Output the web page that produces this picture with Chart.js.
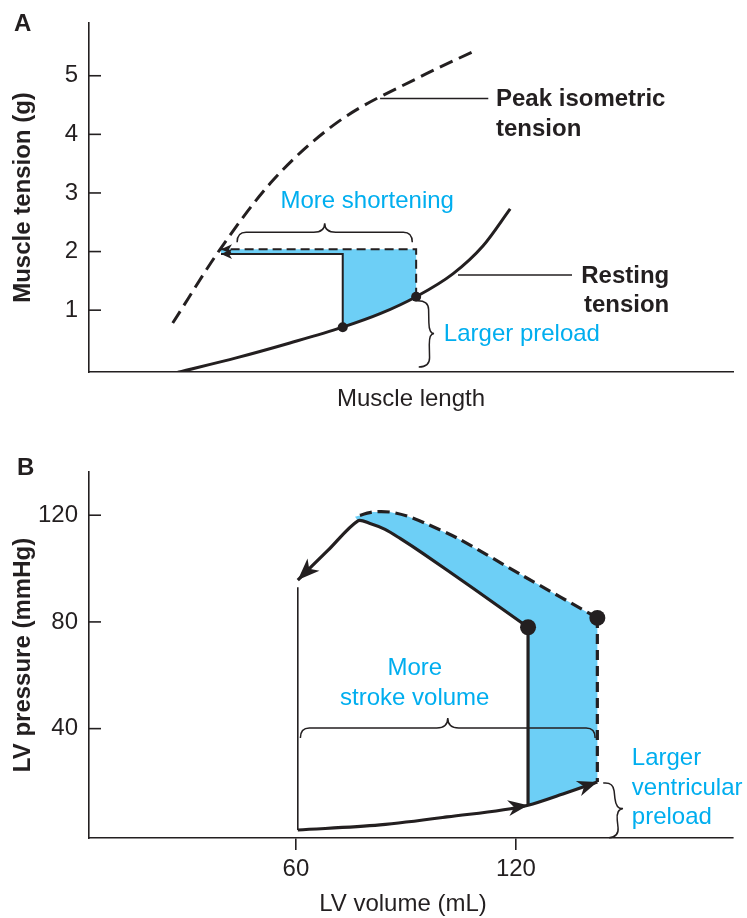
<!DOCTYPE html>
<html>
<head>
<meta charset="utf-8">
<title>Preload and shortening</title>
<script src="https://cdn.jsdelivr.net/npm/chart.js@4.4.1/dist/chart.umd.min.js"></script>
<style>
  html, body { margin: 0; padding: 0; background: #ffffff; }
  #wrap { position: relative; width: 747px; height: 918px; overflow: hidden; }
  #panelA { position: absolute; left: 0; top: 0; }
  #panelB { position: absolute; left: 0; top: 430px; }
</style>
</head>
<body>
<div id="wrap">
  <canvas id="panelA" width="747" height="430"></canvas>
  <canvas id="panelB" width="747" height="488"></canvas>
</div>
<script>
// ---------- Panel A: length-tension relation of isolated muscle ----------
const restingLength  = [1.38, 2.30, 3.12, 3.94, 4.52, 5.08, 5.65, 6.12, 6.54];
const restingTension = [-0.06, 0.19, 0.44, 0.71, 0.94, 1.23, 1.62, 2.10, 2.73];
const peakLength     = [1.30, 2.03, 2.86, 3.85, 5.14, 5.96];
const peakTension    = [0.78, 2.03, 3.22, 4.20, 4.98, 5.41];
const preloadLength  = [3.94, 5.08];   // starting length: smaller / larger preload
const preloadTension = [0.71, 1.23];
const liftTension    = [1.96, 2.04];   // tension held while the muscle shortens
const shortenedLength = 2.05;          // length reached on the peak isometric curve
const tensionTicks   = [1, 2, 3, 4, 5];

// ---------- Panel B: LV pressure-volume loops ----------
const fillVolume   = [60.5, 82.9, 101.2, 123.3, 132.8, 142.2];
const fillPressure = [2.0, 3.9, 6.9, 11.3, 15.5, 20.0];
const ejectVolume   = [123.3, 108.3, 94.6, 88.4, 84.3, 80.2, 76.9, 68.7, 60.5];
const ejectPressure = [78.0, 92.6, 105.7, 111.3, 114.7, 116.9, 117.9, 106.8, 95.7];
const ejectVolumeLarge   = [142.2, 121.9, 103.9, 95.7, 90.3, 85.6, 81.0, 76.1];
const ejectPressureLarge = [81.5, 97.3, 111.5, 116.7, 119.7, 121.2, 121.2, 119.4];
const openVolume   = [123.3, 142.2];   // aortic valve opening
const openPressure = [78.0, 81.5];
const relaxVolume   = 60.5;
const relaxPressure = [93.0, 2.0];
const pressureTicks = [40, 80, 120];
const volumeTicks   = [60, 120];

// ---------- styling ----------
const FONT  = "'Liberation Sans', Arial, Helvetica, sans-serif";
const INK   = '#231f20';
const CYAN  = '#00aeef';
const SHADE = '#6dcff6';

const pts = (xs, ys) => xs.map((x, i) => ({ x, y: ys[i] }));

function path(data, extra) {
  return Object.assign({
    data, showLine: true, pointRadius: 0, pointHoverRadius: 0,
    borderColor: INK, borderWidth: 3, fill: false, order: 1, tension: 0
  }, extra);
}

// ---------- derived shapes for panel A ----------
const restingPts = pts(restingLength, restingTension);
const peakPts    = pts(peakLength, peakTension);
const smallLoopA = [
  { x: preloadLength[0], y: preloadTension[0] },
  { x: preloadLength[0], y: liftTension[0] },
  { x: shortenedLength,  y: liftTension[0] }
];
const largeLoopA = [
  { x: preloadLength[1], y: preloadTension[1] },
  { x: preloadLength[1], y: liftTension[1] },
  { x: shortenedLength,  y: liftTension[1] }
];
const restingBetween = restingPts
  .filter(p => p.x >= preloadLength[0] && p.x <= preloadLength[1])
  .reverse();
const shadeA = [
  ...largeLoopA.slice().reverse(),
  ...restingBetween.slice(1),
  ...smallLoopA.slice(1)
];

// ---------- derived shapes for panel B ----------
const fillPts    = pts(fillVolume, fillPressure);
const ejectPts   = pts(ejectVolume, ejectPressure);
const ejectLarge = pts(ejectVolumeLarge, ejectPressureLarge);
const junction   = ejectVolumeLarge[ejectVolumeLarge.length - 1];
const contractSmall = [fillPts[3], { x: openVolume[0], y: openPressure[0] }];
const contractLarge = [{ x: openVolume[1], y: openPressure[1] }, fillPts[5]];
const relaxLine = [{ x: relaxVolume, y: relaxPressure[0] }, { x: relaxVolume, y: relaxPressure[1] }];
const shadeB = [
  ...ejectLarge.slice().reverse(),
  fillPts[5], fillPts[4], fillPts[3],
  ...ejectPts.filter(p => p.x >= junction)
];

// ---------- drawing helpers ----------
function arrowHead(ctx, tip, from, len, half, notch) {
  const dx = tip.x - from.x, dy = tip.y - from.y;
  const d = Math.hypot(dx, dy) || 1;
  const ux = dx / d, uy = dy / d, nx = -uy, ny = ux;
  ctx.beginPath();
  ctx.moveTo(tip.x, tip.y);
  ctx.lineTo(tip.x - ux * len + nx * half, tip.y - uy * len + ny * half);
  ctx.lineTo(tip.x - ux * (len - notch), tip.y - uy * (len - notch));
  ctx.lineTo(tip.x - ux * len - nx * half, tip.y - uy * len - ny * half);
  ctx.closePath();
  ctx.fill();
}

function brace(ctx, p1, p2, depth, shoulder) {
  const dx = p2.x - p1.x, dy = p2.y - p1.y;
  const L = Math.hypot(dx, dy);
  const ux = dx / L, uy = dy / L, nx = uy, ny = -ux;
  const P = (s, t) => [p1.x + ux * s + nx * t, p1.y + uy * s + ny * t];
  const r = 9, r2 = 11, m = L / 2;
  ctx.beginPath();
  ctx.moveTo(...P(0, 0));
  ctx.quadraticCurveTo(...P(0, shoulder), ...P(r, shoulder));
  ctx.lineTo(...P(m - r2, shoulder));
  ctx.quadraticCurveTo(...P(m, shoulder), ...P(m, depth));
  ctx.quadraticCurveTo(...P(m, shoulder), ...P(m + r2, shoulder));
  ctx.lineTo(...P(L - r, shoulder));
  ctx.quadraticCurveTo(...P(L, shoulder), ...P(L, 0));
  ctx.stroke();
}

function decorations(spec) {
  return {
    id: 'decorations',
    afterDatasetsDraw(chart) {
      const ctx = chart.ctx;
      ctx.save();
      ctx.fillStyle = INK;
      (spec.arrows || []).forEach(a => {
        const els = chart.getDatasetMeta(a.dataset).data;
        arrowHead(ctx, els[a.at], els[a.from], a.len, a.half, a.notch);
      });
      ctx.restore();
    },
    afterDraw(chart) {
      const ctx = chart.ctx;
      const xs = chart.scales.x, ys = chart.scales.y;
      const area = chart.chartArea;
      const px = v => ({ x: xs.getPixelForValue(v[0]), y: ys.getPixelForValue(v[1]) });
      ctx.save();
      // inward tick marks on the value axis
      ctx.strokeStyle = INK;
      ctx.lineWidth = 1.6;
      ys.ticks.forEach(t => {
        const y = ys.getPixelForValue(t.value);
        ctx.beginPath();
        ctx.moveTo(area.left, y);
        ctx.lineTo(area.left + 12, y);
        ctx.stroke();
      });
      // leader lines and braces
      ctx.lineWidth = 1.5;
      (spec.leaders || []).forEach(l => {
        const a = px(l.from), b = px(l.to);
        ctx.beginPath();
        ctx.moveTo(a.x, a.y);
        ctx.lineTo(b.x, b.y);
        ctx.stroke();
      });
      (spec.braces || []).forEach(b => brace(ctx, px(b.from), px(b.to), b.depth, b.shoulder));
      // text
      ctx.textBaseline = 'middle';
      (spec.texts || []).forEach(t => {
        const p = t.px ? { x: t.px[0], y: t.px[1] } : px(t.at);
        ctx.font = (t.bold ? 'bold ' : '') + '24px ' + FONT;
        ctx.fillStyle = t.color || INK;
        ctx.textAlign = t.align || 'left';
        ctx.fillText(t.text, p.x, p.y);
      });
      ctx.restore();
    }
  };
}

function baseOptions(pad) {
  return {
    responsive: false, animation: false, events: [], devicePixelRatio: 1,
    layout: { padding: pad },
    plugins: { legend: { display: false }, tooltip: { enabled: false } }
  };
}

const tickFont  = { family: FONT, size: 24, lineHeight: 1 };
const titleFont = { family: FONT, size: 24, weight: 'bold', lineHeight: 1.2 };
const axisBorder = { display: true, color: INK, width: 1.6 };

// ---------- Panel A ----------
const optsA = baseOptions({ left: 0, right: 14, top: 23, bottom: 0 });
optsA.scales = {
  x: {
    type: 'linear', min: 0, max: 10,
    afterFit: s => { s.height = 58; },
    grid: { display: false, drawTicks: false },
    border: axisBorder,
    ticks: { display: false },
    title: { display: true, text: 'Muscle length', color: INK,
             font: { family: FONT, size: 24, lineHeight: 1.2 }, padding: { top: 0, bottom: 16.6 } }
  },
  y: {
    type: 'linear', min: -0.055, max: 5.9,
    afterFit: s => { s.width = 89; },
    afterBuildTicks: s => { s.ticks = tensionTicks.map(v => ({ value: v })); },
    grid: { display: false, drawTicks: false },
    border: axisBorder,
    ticks: { color: INK, padding: 11, font: tickFont },
    title: { display: true, text: 'Muscle tension (g)', color: INK, font: titleFont,
             padding: { top: 8.6, bottom: 0 } }
  }
};

new Chart(document.getElementById('panelA'), {
  type: 'scatter',
  data: {
    datasets: [
      path(shadeA, { borderWidth: 0, borderColor: 'rgba(0,0,0,0)', backgroundColor: SHADE, fill: 'shape', order: 5 }),
      path(restingPts, { cubicInterpolationMode: 'monotone', borderWidth: 3 }),
      path(peakPts, { cubicInterpolationMode: 'monotone', borderWidth: 3, borderDash: [14, 7] }),
      path(smallLoopA, { borderWidth: 2 }),
      path(largeLoopA, { borderWidth: 2, borderDash: [9, 5] }),
      { data: pts(preloadLength, preloadTension), pointRadius: 5, pointHoverRadius: 5,
        pointBackgroundColor: INK, pointBorderWidth: 0, showLine: false, order: -1 }
    ]
  },
  options: optsA,
  plugins: [decorations({
    arrows: [
      { dataset: 3, at: 2, from: 1, len: 11, half: 5, notch: 3 },
      { dataset: 4, at: 2, from: 1, len: 11, half: 5, notch: 3 }
    ],
    leaders: [
      { from: [4.52, 4.61], to: [6.20, 4.61] },
      { from: [5.73, 1.60], to: [7.50, 1.60] }
    ],
    braces: [
      { from: [2.30, 2.16], to: [5.02, 2.16], depth: 19, shoulder: 10 },
      { from: [5.10, 1.16], to: [5.12, 0.03], depth: 16, shoulder: 11 }
    ],
    texts: [
      { text: 'A', px: [14, 24], bold: true },
      { text: 'More shortening', at: [4.32, 2.85], align: 'center', color: CYAN },
      { text: 'Larger preload', at: [5.51, 0.59], color: CYAN },
      { text: 'Peak isometric', at: [6.32, 4.59], bold: true },
      { text: 'tension', at: [6.32, 4.09], bold: true },
      { text: 'Resting', at: [9.01, 1.58], align: 'right', bold: true },
      { text: 'tension', at: [9.01, 1.09], align: 'right', bold: true }
    ]
  })]
});

// ---------- Panel B ----------
const optsB = baseOptions({ left: 0, right: 14, top: 42, bottom: 0 });
optsB.scales = {
  x: {
    type: 'linear', min: 3.55, max: 179.2,
    afterFit: s => { s.height = 80; },
    afterBuildTicks: s => { s.ticks = volumeTicks.map(v => ({ value: v })); },
    grid: { display: true, drawOnChartArea: false, drawTicks: true, tickLength: 12, color: INK, lineWidth: 1.6 },
    border: axisBorder,
    ticks: { color: INK, padding: 7, font: tickFont, maxRotation: 0 }
  },
  y: {
    type: 'linear', min: -1, max: 136.2,
    afterFit: s => { s.width = 89; },
    afterBuildTicks: s => { s.ticks = pressureTicks.map(v => ({ value: v })); },
    grid: { display: false, drawTicks: false },
    border: axisBorder,
    ticks: { color: INK, padding: 11, font: tickFont },
    title: { display: true, text: 'LV pressure (mmHg)', color: INK, font: titleFont,
             padding: { top: 8.6, bottom: 0 } }
  }
};

new Chart(document.getElementById('panelB'), {
  type: 'scatter',
  data: {
    datasets: [
      path(shadeB, { borderWidth: 0, borderColor: 'rgba(0,0,0,0)', backgroundColor: SHADE, fill: 'shape', order: 5 }),
      path(fillPts, { cubicInterpolationMode: 'monotone', borderWidth: 3.2 }),
      path(ejectPts, { tension: 0.3, borderWidth: 3.2 }),
      path(ejectLarge, { tension: 0.3, borderWidth: 3.2, borderDash: [12, 6] }),
      path(contractSmall, { borderWidth: 3.2 }),
      path(contractLarge, { borderWidth: 3.2, borderDash: [10, 6] }),
      path(relaxLine, { borderWidth: 1.6 }),
      { data: pts(openVolume, openPressure), pointRadius: 8, pointHoverRadius: 8,
        pointBackgroundColor: INK, pointBorderWidth: 0, showLine: false, order: -1 }
    ]
  },
  options: optsB,
  plugins: [decorations({
    arrows: [
      { dataset: 1, at: 3, from: 2, len: 20, half: 8, notch: 6 },
      { dataset: 1, at: 5, from: 4, len: 20, half: 8, notch: 6 },
      { dataset: 2, at: 8, from: 7, len: 22, half: 8.5, notch: 6 }
    ],
    braces: [
      { from: [61.2, 36.5], to: [141.6, 36.5], depth: 20, shoulder: 10 },
      { from: [143.8, 19.6], to: [145.4, -0.9], depth: 17, shoulder: 10 }
    ],
    texts: [
      { text: 'B', px: [17, 38], bold: true },
      { text: 'LV volume (mL)', px: [403, 474], align: 'center' },
      { text: 'More', at: [92.4, 62.5], align: 'center', color: CYAN },
      { text: 'stroke volume', at: [92.4, 51.5], align: 'center', color: CYAN },
      { text: 'Larger', at: [151.6, 28.8], color: CYAN },
      { text: 'ventricular', at: [151.6, 17.5], color: CYAN },
      { text: 'preload', at: [151.6, 6.7], color: CYAN }
    ]
  })]
});
</script>
</body>
</html>
